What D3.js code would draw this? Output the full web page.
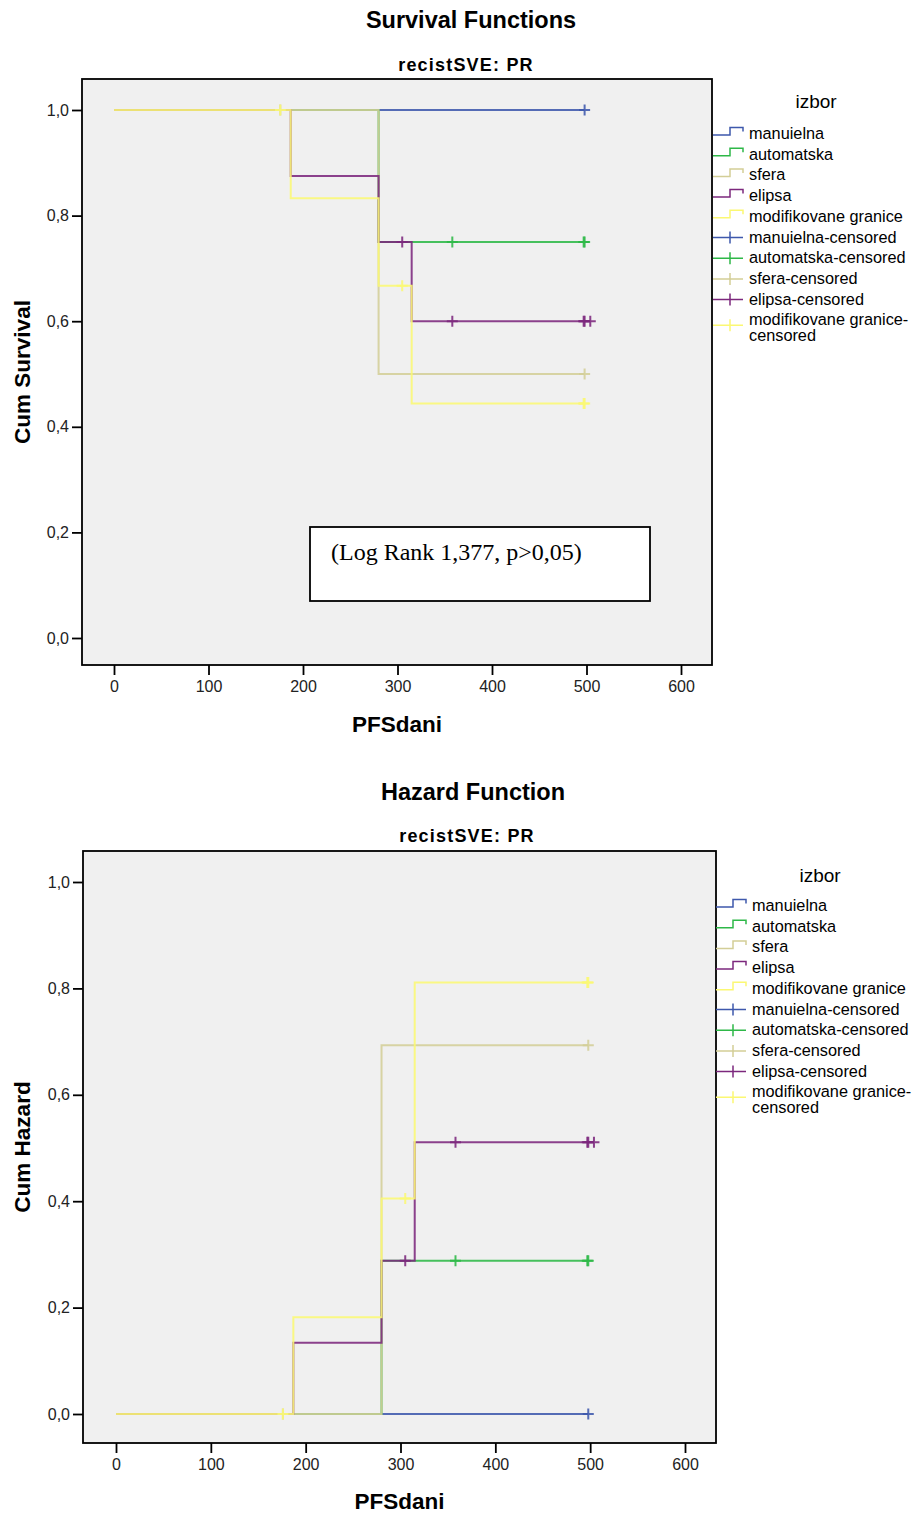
<!DOCTYPE html>
<html><head><meta charset="utf-8">
<script src="https://cdn.jsdelivr.net/npm/d3@7"></script>
<style>body{margin:0;background:#fff}svg{display:block}</style>
</head><body>
<svg id="c" width="915" height="1515"></svg>
<script>
// ---------- data ----------
const groups = ["manuielna","automatska","sfera","elipsa","modifikovane granice"];
const colors = ["#3e58ac","#2eb848","#d3ce97","#7c287d","#fbf873"];
const legendLabels = ["manuielna","automatska","sfera","elipsa","modifikovane granice",
  "manuielna-censored","automatska-censored","sfera-censored","elipsa-censored","modifikovane granice-censored"];
const xTicks = [0,100,200,300,400,500,600];
const yTicks = [0,0.2,0.4,0.6,0.8,1.0];

// survival step points [time, value]
const survManuielna = [[0,1],[498,1]];
const survAutomatska = [[0,1],[280,0.75],[498,0.75]];
const survSfera = [[0,1],[280,0.5],[498,0.5]];
const survElipsa = [[0,1],[187,0.875],[280,0.75],[315,0.6],[504,0.6]];
const survModif = [[0,1],[187,0.833],[280,0.667],[315,0.444],[498,0.444]];
// cumulative hazard step points
const hazManuielna = [[0,0],[498,0]];
const hazAutomatska = [[0,0],[280,0.288],[498,0.288]];
const hazSfera = [[0,0],[280,0.693],[498,0.693]];
const hazElipsa = [[0,0],[187,0.134],[280,0.288],[315,0.511],[504,0.511]];
const hazModif = [[0,0],[187,0.182],[280,0.405],[315,0.811],[498,0.811]];
// censored times
const censManuielna = [498];
const censAutomatska = [358,497,498];
const censSfera = [176,498];
const censElipsa = [305,358,497,498,504];
const censModif = [176,305,497,498];

const survSeries = [survManuielna,survAutomatska,survSfera,survElipsa,survModif];
const hazSeries = [hazManuielna,hazAutomatska,hazSfera,hazElipsa,hazModif];
const censSeries = [censManuielna,censAutomatska,censSfera,censElipsa,censModif];

// ---------- drawing ----------
const svg = d3.select("#c");
const SANS = "'Liberation Sans', Arial, sans-serif";

function stepValue(pts, t){ let v = pts[0][1]; for (const p of pts){ if (p[0] <= t) v = p[1]; } return v; }

function panel(cfg){
  const g = svg.append("g");
  const x = d3.scaleLinear().domain([0,600]).range([cfg.x0v, cfg.x600]);
  const y = d3.scaleLinear().domain([0,1]).range([cfg.y0v, cfg.y1v]);
  const F = cfg.frame;
  g.append("text").attr("x",cfg.titleX).attr("y",cfg.titleY).attr("text-anchor","middle")
    .style("font-family",SANS).style("font-weight","bold").style("font-size","23.5px").text(cfg.title);
  g.append("text").attr("x",cfg.subX).attr("y",cfg.subY).attr("text-anchor","middle")
    .style("font-family",SANS).style("font-weight","bold").style("font-size","18px").style("letter-spacing","1.2px").text("recistSVE: PR");
  g.append("rect").attr("x",F.l).attr("y",F.t).attr("width",F.r-F.l).attr("height",F.b-F.t)
    .attr("fill","#f0f0f0").attr("stroke","none");
  const clipId = "clip"+cfg.id;
  svg.append("clipPath").attr("id",clipId).append("rect").attr("x",F.l).attr("y",F.t).attr("width",F.r-F.l).attr("height",F.b-F.t);
  const plot = g.append("g").attr("clip-path",`url(#${clipId})`);
  const line = d3.line().x(d=>x(d[0])).y(d=>y(d[1])).curve(d3.curveStepAfter);
  cfg.series.forEach((pts,i)=>{
    plot.append("path").datum(pts).attr("d",line).attr("fill","none")
      .attr("stroke",colors[i]).attr("stroke-width",2).attr("stroke-opacity",0.88);
  });
  cfg.series.forEach((pts,i)=>{
    censSeries[i].forEach(t=>{
      const cx = x(t), cy = y(stepValue(pts,t));
      plot.append("path").attr("d",`M${cx-5.5},${cy}H${cx+5.5}M${cx},${cy-5.5}V${cy+5.5}`)
        .attr("stroke",colors[i]).attr("stroke-width",2).attr("stroke-opacity",0.88).attr("fill","none");
    });
  });
  g.append("rect").attr("x",F.l).attr("y",F.t).attr("width",F.r-F.l).attr("height",F.b-F.t)
    .attr("fill","none").attr("stroke","#000").attr("stroke-width",1.8);
  const ax = g.append("g").attr("transform",`translate(0,${F.b})`)
    .call(d3.axisBottom(x).tickValues(xTicks).tickSize(10).tickSizeOuter(0).tickPadding(6).tickFormat(d3.format("d")));
  ax.select(".domain").remove();
  const ay = g.append("g").attr("transform",`translate(${F.l},0)`)
    .call(d3.axisLeft(y).tickValues(yTicks).tickSize(10).tickSizeOuter(0).tickPadding(3).tickFormat(d=>d3.format(".1f")(d).replace(".",",")));
  ay.select(".domain").remove();
  [ax,ay].forEach(a=>{
    a.selectAll("line").attr("stroke","#000").attr("stroke-width",1.8);
    a.selectAll("text").style("font-family",SANS).style("font-size","16px").attr("fill","#222");
  });
  g.append("text").attr("x",(F.l+F.r)/2).attr("y",cfg.xTitleY).attr("text-anchor","middle")
    .style("font-family",SANS).style("font-weight","bold").style("font-size","22.5px").text("PFSdani");
  g.append("text").attr("transform",`translate(${cfg.yTitleX},${(F.t+F.b)/2}) rotate(-90)`).attr("text-anchor","middle")
    .style("font-family",SANS).style("font-weight","bold").style("font-size","22.5px").text(cfg.yTitle);
  const L = cfg.legend;
  g.append("text").attr("x",L.titleX).attr("y",L.titleY).attr("text-anchor","middle")
    .style("font-family",SANS).style("font-size","19px").text("izbor");
  legendLabels.forEach((lab,k)=>{
    const by = L.y0 + k*L.dy;
    const ci = k % 5;
    if (k < 5){
      g.append("path").attr("d",`M${L.sx0},${by-4}H${L.sxm}V${by-11.5}H${L.sx1}V${by-7.5}`)
        .attr("fill","none").attr("stroke",colors[ci]).attr("stroke-width",1.5);
    } else {
      const my = (k===9) ? by : by-5;
      g.append("path").attr("d",`M${L.sx0},${my}H${L.sx1}M${L.sxm},${my-6}V${my+6}`)
        .attr("fill","none").attr("stroke",colors[ci]).attr("stroke-width",1.5);
    }
    if (k===9){
      g.append("text").attr("x",L.tx).attr("y",by).style("font-family",SANS).style("font-size","16.3px").text("modifikovane granice-");
      g.append("text").attr("x",L.tx).attr("y",by+16).style("font-family",SANS).style("font-size","16.3px").text("censored");
    } else {
      g.append("text").attr("x",L.tx).attr("y",by).style("font-family",SANS).style("font-size","16.3px").text(lab);
    }
  });
  return g;
}

const topPanel = panel({id:1, title:"Survival Functions", titleX:471, titleY:28, subX:466, subY:71,
  x0v:114, x600:681, y0v:638, y1v:110, frame:{l:82,r:712,t:79,b:665},
  series:survSeries, xTitleY:732, yTitleX:30, yTitle:"Cum Survival",
  legend:{titleX:816, titleY:108, y0:139, dy:20.7, sx0:713, sxm:730, sx1:743, tx:749}});
topPanel.append("rect").attr("x",310).attr("y",527).attr("width",340).attr("height",74)
  .attr("fill","#fff").attr("stroke","#000").attr("stroke-width",1.8);
topPanel.append("text").attr("x",331).attr("y",560).style("font-family","'Liberation Serif','Times New Roman',serif")
  .style("font-size","24px").text("(Log Rank 1,377, p>0,05)");

const bottomPanel = panel({id:2, title:"Hazard Function", titleX:473, titleY:800, subX:467, subY:842,
  x0v:116, x600:685, y0v:1414, y1v:882, frame:{l:83,r:716,t:851,b:1443},
  series:hazSeries, xTitleY:1509, yTitleX:30, yTitle:"Cum Hazard",
  legend:{titleX:820, titleY:882, y0:911, dy:20.7, sx0:716, sxm:733, sx1:746, tx:752}});
</script>
</body></html>
